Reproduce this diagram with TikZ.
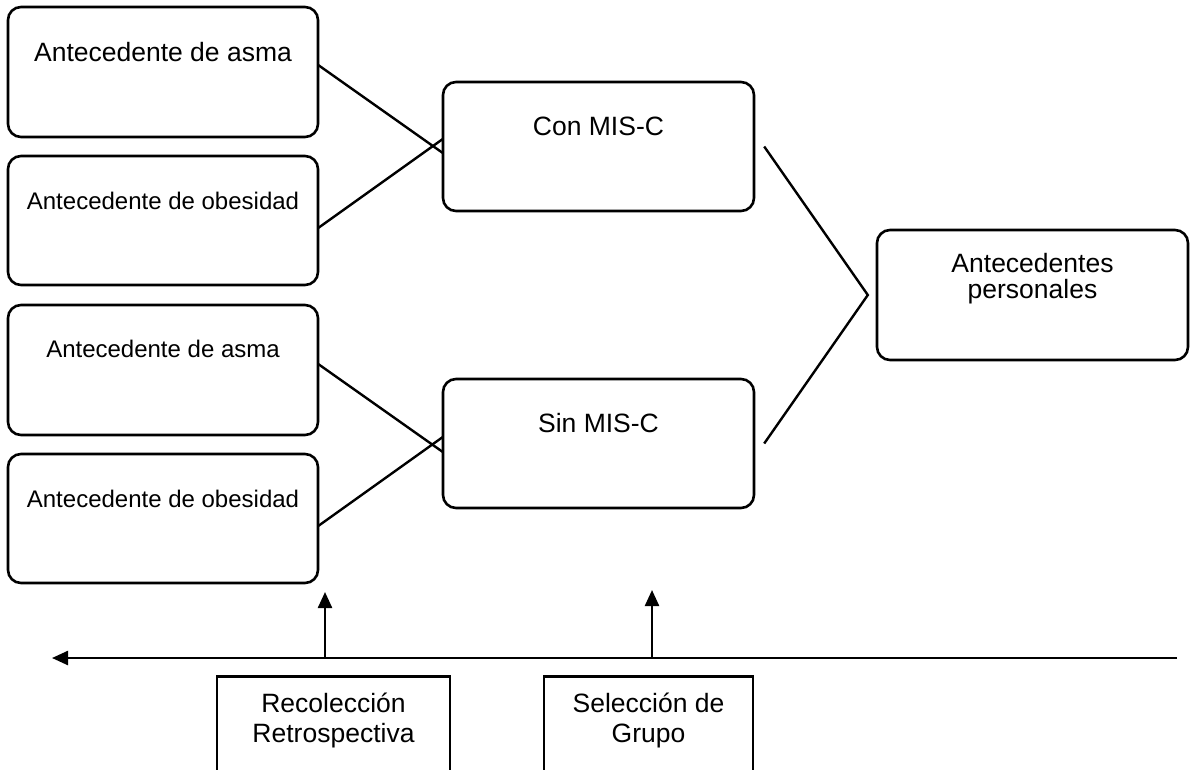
\documentclass[tikz,border=0pt]{standalone}
\usepackage{fontspec}
\setmainfont{Liberation Sans}
\usetikzlibrary{arrows.meta}
\begin{document}
\begin{tikzpicture}[x=1pt,y=-1pt,
  rbox/.style={draw=black,line width=2.6pt,rounded corners=13pt},
  sbox/.style={draw=black,line width=2.6pt,inner sep=0pt},
  frame/.style={inner sep=0pt},
  conn/.style={draw=black,line width=2.4pt},
  arr/.style={draw=black,line width=2.4pt,-{Triangle[length=16pt,width=14pt]}},
  bigtxt/.style={anchor=base,inner sep=0pt,align=center,font=\fontsize{26.5}{30}\selectfont},
  smalltxt/.style={anchor=base,inner sep=0pt,align=center,font=\fontsize{24}{28}\selectfont}
]
\useasboundingbox (0,0) rectangle (1193,769);
\clip (0,0) rectangle (1193,769);
\fill[white] (0,0) rectangle (1193,769);

% left boxes
\draw[rbox] (8,7) rectangle (318,137);
\node[frame,minimum width=310pt,minimum height=130pt] (b1) at (163,72) {};
\draw[rbox] (8,156) rectangle (318,285);
\node[frame,minimum width=310pt,minimum height=129pt] (b2) at (163,220.5) {};
\draw[rbox] (8,305) rectangle (318,435);
\node[frame,minimum width=310pt,minimum height=130pt] (b3) at (163,370) {};
\draw[rbox] (8,454) rectangle (318,583);
\node[frame,minimum width=310pt,minimum height=129pt] (b4) at (163,518.5) {};

% middle boxes
\draw[rbox] (443,82) rectangle (754,211);
\node[frame,minimum width=311pt,minimum height=129pt] (con) at (598.5,146.5) {};
\draw[rbox] (443,379) rectangle (754,508);
\node[frame,minimum width=311pt,minimum height=129pt] (sin) at (598.5,443.5) {};

% right box
\draw[rbox] (877,230) rectangle (1188,360);
\node[frame,minimum width=311pt,minimum height=130pt] (ap) at (1032.5,295) {};

% bottom boxes (cut off at bottom)
\node[sbox,minimum width=233pt,minimum height=130pt,anchor=north] (rec) at (333.5,675) {};
\node[sbox,minimum width=209pt,minimum height=130pt,anchor=north] (sel) at (648.5,675) {};

% texts
\node[bigtxt] (t1) at (163,61) {Antecedente de asma};
\node[smalltxt] (t2) at (163,209) {Antecedente de obesidad};
\node[smalltxt] (t3) at (163,357) {Antecedente de asma};
\node[smalltxt] (t4) at (163,507) {Antecedente de obesidad};
\node[bigtxt] (tcon) at (598.5,135) {Con MIS-C};
\node[bigtxt] (tsin) at (598.5,432) {Sin MIS-C};
\node[bigtxt,font=\fontsize{26.5}{26}\selectfont] (tap) at (1032.5,298) {Antecedentes\\personales};
\node[bigtxt] (trec) at (333.5,742) {Recolección\\Retrospectiva};
\node[bigtxt] (tsel) at (648.5,742) {Selección de\\Grupo};

% connectors left
\draw[conn] ([yshift=7pt]b1.east) -- ([yshift=-6.5pt]con.west);
\draw[conn] ([yshift=-7.5pt]b2.east) -- ([yshift=7.5pt]con.west);
\draw[conn] ([yshift=6pt]b3.east) -- ([yshift=-8.5pt]sin.west);
\draw[conn] ([yshift=-7.5pt]b4.east) -- ([yshift=6.5pt]sin.west);

% connector right
\draw[conn] ([xshift=10pt]con.east) -- ([xshift=-9pt]ap.west) -- ([xshift=10pt]sin.east);

% timeline
\coordinate (tlR) at (1177,658);
\coordinate (tlL) at (52,658);
\coordinate (a1b) at (325,658);
\coordinate (a1t) at (325,592);
\coordinate (a2b) at (652,658);
\coordinate (a2t) at (652,590);
\draw[arr] (tlR) -- (tlL);
\draw[arr] (a1b) -- (a1t);
\draw[arr] (a2b) -- (a2t);
\end{tikzpicture}
\end{document}
